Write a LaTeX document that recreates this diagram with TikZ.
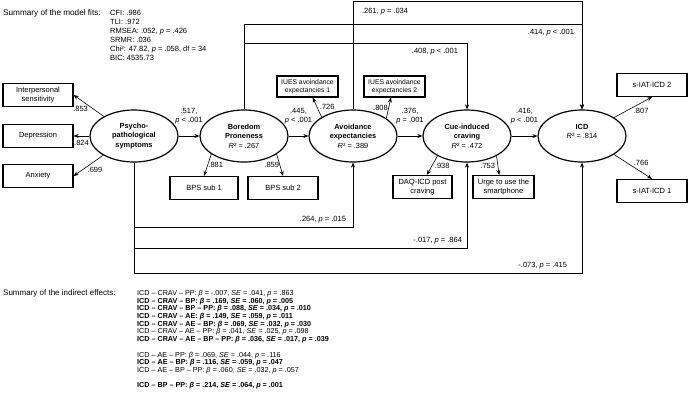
\documentclass[tikz,border=0pt]{standalone}
\usepackage{fontspec}
\setmainfont{Liberation Sans}
\usetikzlibrary{shapes.geometric,arrows.meta,positioning}

\tikzset{
	latent/.style={ellipse, draw, line width=1.2pt, minimum width=88pt, minimum height=52pt,
		inner sep=0pt, align=center, font=\fontsize{7.4}{9.4}\selectfont\bfseries},
	manifest/.style={rectangle, draw, line width=1.2pt, minimum height=23pt, inner sep=1pt, align=center},
	regr/.style={->, line width=1pt},
	loading/.style={->, line width=0.6pt},
	coef/.style={inner sep=0.5pt, align=center},
	summary/.style={inner sep=0pt, align=left, anchor=north west},
}

\begin{document}
\begin{tikzpicture}[x=1pt,y=-1pt,>={Stealth[length=5pt,width=4pt]},font=\fontsize{7.5}{9.1}\selectfont]
	\useasboundingbox (0,0) rectangle (688,408);

	\node[latent] (pp) at (134,136) {Psycho-\\pathological\\symptoms};
	\node[latent] (bp) at (244,136) {Boredom\\Proneness\\\mdseries\textit{R}² = .267};
	\node[latent] (ae) at (353,136) {Avoidance\\expectancies\\\mdseries\textit{R}² = .389};
	\node[latent] (crav) at (467,136) {Cue-induced\\craving\\\mdseries\textit{R}² = .472};
	\node[latent] (icd) at (582,136) {ICD\\\mdseries\textit{R}² = .814\\\mbox{}};

	\node[manifest, minimum width=70pt] (interp) at (38,95) {Interpersonal\\sensitivity};
	\node[manifest, minimum width=70pt] (dep) at (38,136) {Depression};
	\node[manifest, minimum width=70pt] (anx) at (38,176) {Anxiety};
	\node[manifest, minimum width=68pt] (bps1) at (204,188) {BPS sub 1};
	\node[manifest, minimum width=70pt] (bps2) at (283,188) {BPS sub 2};
	\node[manifest, minimum width=61pt, minimum height=21pt, font=\fontsize{6.8}{8.4}\selectfont] (iues1) at (307.5,86.5) {IUES avoindance\\expectancies 1};
	\node[manifest, minimum width=61pt, minimum height=21pt, font=\fontsize{6.8}{8.4}\selectfont] (iues2) at (394.5,86.5) {IUES avoindance\\expectancies 2};
	\node[manifest, minimum width=59pt] (daq) at (422.5,187) {DAQ-ICD post\\craving};
	\node[manifest, minimum width=61pt] (urge) at (503.5,187) {Urge to use the\\smartphone};
	\node[manifest, minimum width=70pt] (siat2) at (652,85) {s-IAT-ICD 2};
	\node[manifest, minimum width=70pt] (siat1) at (652,191) {s-IAT-ICD 1};

	\draw[loading] (pp.147) -- (interp.east) node[coef, midway, below left=0pt] {.853};
	\draw[loading] (pp.west) -- (dep.east) node[coef, midway, below=3pt] {.824};
	\draw[loading] (pp.212) -- (anx.east) node[coef, pos=0.55, below right=0pt] {.699};
	\draw[loading] (bp.209) -- (bps1.north) node[coef, midway, right] {.881};
	\draw[loading] (bp.331) -- (bps2.north) node[coef, midway, left] {.859};
	\draw[loading] (ae.149) -- (iues1.-65) node[coef, midway, right=2pt] {.726};
	\draw[loading] (ae.28) -- (iues2.252) node[coef, midway, left] {.808};
	\draw[loading] (crav.214) -- (daq.70) node[coef, midway, right=2pt] {.938};
	\draw[loading] (crav.326) -- (urge.110) node[coef, midway, left=2pt] {.753};
	\draw[loading] (icd.30) -- (siat2.south) node[coef, midway, below right=0pt] {.807};
	\draw[loading] (icd.-30) -- (siat1.north) node[coef, midway, above right=0pt] {.766};

	\draw[regr] (pp) -- (bp) node[coef, midway, above=11pt] {.517,\\\textit{p} < .001};
	\draw[regr] (bp) -- (ae) node[coef, midway, above=11pt] {.445,\\\textit{p} < .001};
	\draw[regr] (ae) -- (crav) node[coef, midway, above=11pt] {.376,\\\textit{p} = .001};
	\draw[regr] (crav) -- (icd) node[coef, midway, above=11pt] {.416,\\\textit{p} < .001};

	\draw[regr] (bp.north) -- ++(0,-66) -| (crav.north) node[coef, pos=0.5, below left=4pt and 8pt] {.408, \textit{p} < .001};
	\draw[regr] (bp.north) -- ++(0,-85) -| (icd.north) node[coef, pos=0.5, below left=4pt and 7pt] {.414, \textit{p} < .001};
	\draw[regr] (ae.north) -- ++(0,-108) node[coef, below right=6pt and 8pt] {.261, \textit{p} = .034} -| (icd.north);
	\draw[regr] (pp.south) -- ++(0,65) -| (ae.south) node[coef, pos=0.5, above left=4pt and 6pt] {.264, \textit{p} = .015};
	\draw[regr] (pp.south) -- ++(0,86) -| (crav.south) node[coef, pos=0.5, above left=4pt and 4pt] {-.017, \textit{p} = .864};
	\draw[regr] (pp.south) -- ++(0,111) -| (icd.south) node[coef, pos=0.5, above left=4pt and 14pt] {-.073, \textit{p} = .415};

	\node[summary, font=\fontsize{8.2}{9}\selectfont] (fitlbl) at (3,9.5) {Summary of the model fits:};
	\node[summary] (fits) at (110,10) {CFI: .986\\TLI: .972\\RMSEA: .052, \textit{p} = .426\\SRMR: .036\\Chi²: 47.82, \textit{p} = .058, df = 34\\BIC: 4535.73};

	\node[summary, font=\fontsize{8}{9}\selectfont] (indlbl) at (3,289.5) {Summary of the indirect effects:};
	\node[summary, font=\fontsize{7.2}{7.7}\selectfont] (indirect) at (137,290) {ICD -- CRAV -- PP: \textit{β} = -.007, \textit{SE} = .041, \textit{p} = .863\\
		\textbf{ICD -- CRAV -- BP: \textit{β} = .169, \textit{SE} = .060, \textit{p} = .005}\\
		\textbf{ICD -- CRAV -- BP -- PP: \textit{β} = .088, \textit{SE} = .034, \textit{p} = .010}\\
		\textbf{ICD -- CRAV -- AE: \textit{β} = .149, \textit{SE} = .059, \textit{p} = .011}\\
		\textbf{ICD -- CRAV -- AE -- BP: \textit{β} = .069, \textit{SE} = .032, \textit{p} = .030}\\
		ICD -- CRAV -- AE -- PP: \textit{β} = .041, \textit{SE} = .025, \textit{p} = .098\\
		\textbf{ICD -- CRAV -- AE -- BP -- PP: \textit{β} = .036, \textit{SE} = .017, \textit{p} = .039}\\[7.7pt]
		ICD -- AE -- PP: \textit{β} = .069, \textit{SE} = .044, \textit{p} = .116\\
		\textbf{ICD -- AE -- BP: \textit{β} = .116, \textit{SE} = .059, \textit{p} = .047}\\
		ICD -- AE -- BP -- PP: \textit{β} = .060, \textit{SE} = .032, \textit{p} = .057\\[7.7pt]
		\textbf{ICD -- BP -- PP: \textit{β} = .214, \textit{SE} = .064, \textit{p} = .001}};
\end{tikzpicture}
\end{document}
